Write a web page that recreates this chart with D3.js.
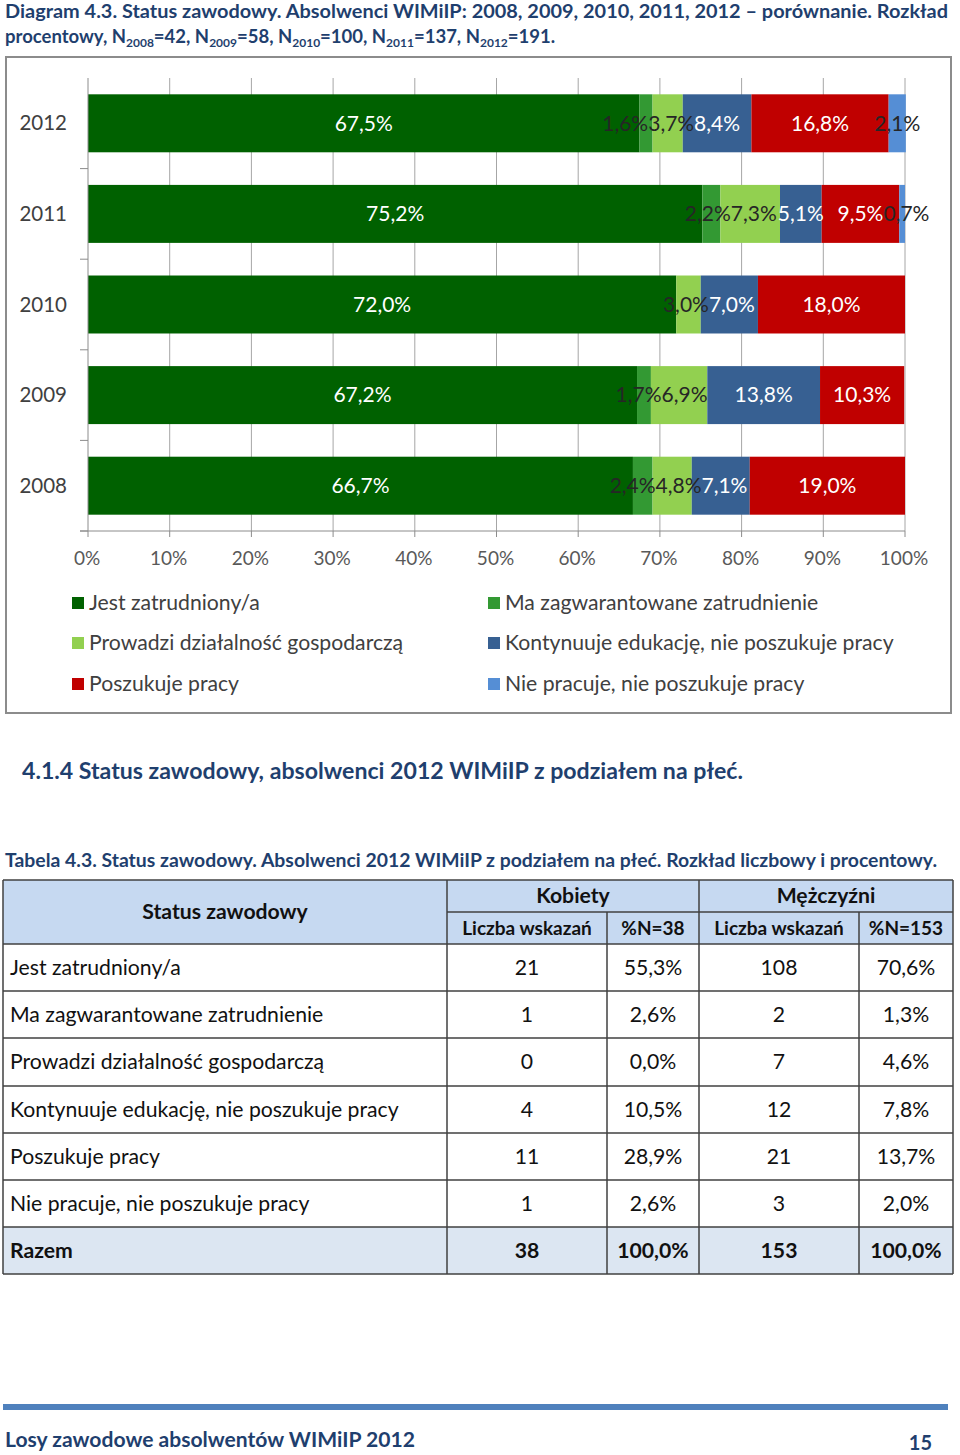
<!DOCTYPE html>
<html><head><meta charset="utf-8">
<script src="https://cdn.jsdelivr.net/npm/d3@7"></script>
<style>
html,body{margin:0;padding:0;background:#fff;}
svg{display:block;}
</style></head>
<body>
<svg id="c" width="960" height="1455"></svg>
<script>
// ---------- DATA ----------
const years = ["2012", "2011", "2010", "2009", "2008"];
const seriesNames = [
  "Jest zatrudniony/a",
  "Ma zagwarantowane zatrudnienie",
  "Prowadzi działalność gospodarczą",
  "Kontynuuje edukację, nie poszukuje pracy",
  "Poszukuje pracy",
  "Nie pracuje, nie poszukuje pracy"
];
const jestZatrudniony   = [67.5, 75.2, 72.0, 67.2, 66.7];
const maZagwarantowane  = [1.6, 2.2, 0, 1.7, 2.4];
const prowadziDzialal   = [3.7, 7.3, 3.0, 6.9, 4.8];
const kontynuujeEdukac  = [8.4, 5.1, 7.0, 13.8, 7.1];
const poszukujePracy    = [16.8, 9.5, 18.0, 10.3, 19.0];
const niePracuje        = [2.1, 0.7, 0, 0, 0];
const xTicks = [0, 10, 20, 30, 40, 50, 60, 70, 80, 90, 100];

const tableStatus = [
  "Jest zatrudniony/a",
  "Ma zagwarantowane zatrudnienie",
  "Prowadzi działalność gospodarczą",
  "Kontynuuje edukację, nie poszukuje pracy",
  "Poszukuje pracy",
  "Nie pracuje, nie poszukuje pracy"
];
const kobietyLiczba = [21, 1, 0, 4, 11, 1];
const kobietyProc   = ["55,3%", "2,6%", "0,0%", "10,5%", "28,9%", "2,6%"];
const mezczyzniLiczba = [108, 2, 7, 12, 21, 3];
const mezczyzniProc   = ["70,6%", "1,3%", "4,6%", "7,8%", "13,7%", "2,0%"];
const razem = ["Razem", "38", "100,0%", "153", "100,0%"];

// ---------- STYLE ----------
const colors = ["#006100", "#339933", "#92D050", "#376092", "#C00000", "#558ED5"];
const labelColors = ["#fff", "#262626", "#262626", "#fff", "#fff", "#262626"];
const FONT = "Lato, 'Open Sans', sans-serif";
const navy = "#1F3F6E";

const svg = d3.select("#c");
svg.append("rect").attr("width", 960).attr("height", 1455).attr("fill", "#fff");

// ---------- TITLE ----------
svg.append("text").attr("x", 5).attr("y", 18)
  .attr("font-family", FONT).attr("font-weight", "bold").attr("font-size", 18.5)
  .attr("fill", navy)
  .attr("textLength", 943).attr("lengthAdjust", "spacingAndGlyphs")
  .text("Diagram 4.3. Status zawodowy. Absolwenci WIMiIP: 2008, 2009, 2010, 2011, 2012 – porównanie. Rozkład");

const t2 = svg.append("text").attr("x", 5).attr("y", 43)
  .attr("font-family", FONT).attr("font-weight", "bold").attr("font-size", 18.5)
  .attr("fill", navy);
const nParts = [["2008","42"],["2009","58"],["2010","100"],["2011","137"],["2012","191"]];
t2.append("tspan").text("procentowy, ");
nParts.forEach((p, i) => {
  t2.append("tspan").text("N");
  t2.append("tspan").attr("font-size", 12).attr("dy", 4).text(p[0]);
  t2.append("tspan").attr("dy", -4).text("=" + p[1] + (i < nParts.length - 1 ? ", " : "."));
});

// ---------- CHART FRAME ----------
svg.append("rect").attr("x", 6).attr("y", 57).attr("width", 945).attr("height", 656)
  .attr("fill", "#fff").attr("stroke", "#8c8c8c").attr("stroke-width", 2);

const plot = {left: 88, right: 905, top: 78, bottom: 531};
const x = d3.scaleLinear().domain([0, 100]).range([plot.left, plot.right]);
const y = d3.scaleBand().domain(years).range([plot.top, plot.bottom])
  .paddingInner(0.36).paddingOuter(0.18);

// gridlines
svg.append("g").selectAll("line").data(xTicks.slice(1)).join("line")
  .attr("x1", d => x(d)).attr("x2", d => x(d))
  .attr("y1", plot.top).attr("y2", plot.bottom)
  .attr("stroke", "#a6a6a6").attr("stroke-width", 1);

// stacked bars
const seriesArrays = [jestZatrudniony, maZagwarantowane, prowadziDzialal, kontynuujeEdukac, poszukujePracy, niePracuje];
const table = years.map((yr, i) => {
  const o = {year: yr};
  seriesNames.forEach((s, k) => o[s] = seriesArrays[k][i]);
  return o;
});
const stack = d3.stack().keys(seriesNames)(table);

const gBars = svg.append("g");
stack.forEach((layer, k) => {
  gBars.append("g").selectAll("rect").data(layer.filter(d => d.data[layer.key] > 0)).join("rect")
    .attr("x", d => x(d[0])).attr("width", d => x(d[1]) - x(d[0]))
    .attr("y", d => y(d.data.year)).attr("height", y.bandwidth())
    .attr("fill", colors[k]);
});

// labels, with simple collision relaxation per bar
const gLab = svg.append("g");
years.forEach(yr => {
  const items = [];
  stack.forEach((layer, k) => {
    const d = layer.find(e => e.data.year === yr);
    const v = d.data[layer.key];
    if (!(v > 0)) return;
    const t = gLab.append("text")
      .attr("y", y(yr) + y.bandwidth() / 2)
      .attr("dy", "0.35em").attr("text-anchor", "middle")
      .attr("font-family", FONT).attr("font-size", 21)
      .attr("fill", labelColors[k])
      .text(d3.format(".1f")(v).replace(".", ",") + "%");
    const w = t.node().getComputedTextLength();
    const seg = x(d[1]) - x(d[0]);
    items.push({t, cx: (x(d[0]) + x(d[1])) / 2, w, fixed: w + 16 < seg});
  });
  for (let it = 0; it < 60; it++) {
    for (let i = 0; i < items.length - 1; i++) {
      const a = items[i], b = items[i + 1];
      const ov = (a.cx + a.w / 2) - (b.cx - b.w / 2);
      if (ov > 0.1) {
        if (a.fixed && b.fixed) continue;
        if (a.fixed) b.cx += ov;
        else if (b.fixed) a.cx -= ov;
        else { a.cx -= ov / 2; b.cx += ov / 2; }
      }
    }
  }
  items.forEach(o => o.t.attr("x", o.cx));
});

// x axis
const gx = svg.append("g").attr("transform", `translate(0,${plot.bottom})`);
gx.append("line").attr("x1", 80).attr("x2", plot.right).attr("y1", 0).attr("y2", 0)
  .attr("stroke", "#8c8c8c");
gx.selectAll("line.tk").data(xTicks).join("line").attr("class", "tk")
  .attr("x1", d => x(d)).attr("x2", d => x(d)).attr("y1", 0).attr("y2", 6)
  .attr("stroke", "#8c8c8c");
gx.selectAll("text").data(xTicks).join("text")
  .attr("x", d => x(d) - 1).attr("y", 27).attr("dy", "0.35em").attr("text-anchor", "middle")
  .attr("font-family", FONT).attr("font-size", 19).attr("fill", "#595959")
  .text(d => d + "%");

// y axis
const gy = svg.append("g");
gy.append("line").attr("x1", plot.left).attr("x2", plot.left).attr("y1", plot.top).attr("y2", plot.bottom)
  .attr("stroke", "#8c8c8c");
const bounds = years.map((d, i) => plot.top + (i + 1) * y.step());
gy.selectAll("line.tk").data(bounds).join("line").attr("class", "tk")
  .attr("x1", 80).attr("x2", plot.left).attr("y1", d => d).attr("y2", d => d)
  .attr("stroke", "#8c8c8c");
gy.selectAll("text").data(years).join("text")
  .attr("x", 67).attr("y", d => y(d) + y.bandwidth() / 2).attr("dy", "0.35em")
  .attr("text-anchor", "end")
  .attr("font-family", FONT).attr("font-size", 20.5).attr("fill", "#404040")
  .text(d => d);

// legend
const legPos = [[72, 603], [488, 603], [72, 643], [488, 643], [72, 684], [488, 684]];
const gl = svg.append("g");
seriesNames.forEach((s, k) => {
  const [lx, ly] = legPos[k];
  gl.append("rect").attr("x", lx).attr("y", ly - 6).attr("width", 12).attr("height", 12).attr("fill", colors[k]);
  gl.append("text").attr("x", lx + 17).attr("y", ly).attr("dy", "0.35em")
    .attr("font-family", FONT).attr("font-size", 21.2).attr("fill", "#404040").text(s);
});

// ---------- HEADINGS ----------
svg.append("text").attr("x", 22).attr("y", 779)
  .attr("font-family", FONT).attr("font-weight", "bold").attr("font-size", 22)
  .attr("fill", navy).attr("textLength", 721).attr("lengthAdjust", "spacingAndGlyphs")
  .text("4.1.4 Status zawodowy, absolwenci 2012 WIMiIP z podziałem na płeć.");

svg.append("text").attr("x", 5).attr("y", 867)
  .attr("font-family", FONT).attr("font-weight", "bold").attr("font-size", 18.5)
  .attr("fill", navy).attr("textLength", 932).attr("lengthAdjust", "spacingAndGlyphs")
  .text("Tabela 4.3. Status zawodowy. Absolwenci 2012 WIMiIP z podziałem na płeć. Rozkład liczbowy i procentowy.");

// ---------- TABLE ----------
const colX = [3, 447, 607, 699, 859, 953];
const rowY = [880, 912, 944, 991, 1038, 1086, 1133, 1180, 1227, 1274];
const gt = svg.append("g");
gt.append("rect").attr("x", colX[0]).attr("y", rowY[0]).attr("width", colX[5] - colX[0]).attr("height", rowY[2] - rowY[0]).attr("fill", "#C6D9F1");
gt.append("rect").attr("x", colX[0]).attr("y", rowY[8]).attr("width", colX[5] - colX[0]).attr("height", rowY[9] - rowY[8]).attr("fill", "#DCE6F2");

const lineC = "#404040";
rowY.forEach((ry, i) => {
  gt.append("line").attr("x1", i === 1 ? colX[1] : colX[0]).attr("x2", colX[5])
    .attr("y1", ry).attr("y2", ry).attr("stroke", lineC).attr("stroke-width", 1.5);
});
colX.forEach((cx, i) => {
  const y0 = (i === 2 || i === 4) ? rowY[1] : rowY[0];
  gt.append("line").attr("x1", cx).attr("x2", cx).attr("y1", y0).attr("y2", rowY[9])
    .attr("stroke", lineC).attr("stroke-width", 1.5);
});

const cellText = (txt, cx, cy, opts = {}) => gt.append("text")
  .attr("x", cx).attr("y", cy).attr("dy", "0.35em")
  .attr("text-anchor", opts.anchor || "middle")
  .attr("font-family", FONT).attr("font-size", opts.size || 21.2)
  .attr("font-weight", opts.bold ? "bold" : "normal").attr("fill", "#111")
  .text(txt);

const centers = [1, 2, 3, 4].map(i => (colX[i] + colX[i + 1]) / 2);
cellText("Status zawodowy", (colX[0] + colX[1]) / 2, (rowY[0] + rowY[2]) / 2, {bold: true});
cellText("Kobiety", (colX[1] + colX[3]) / 2, (rowY[0] + rowY[1]) / 2, {bold: true});
cellText("Mężczyźni", (colX[3] + colX[5]) / 2, (rowY[0] + rowY[1]) / 2, {bold: true});
["Liczba wskazań", "%N=38", "Liczba wskazań", "%N=153"].forEach((s, i) =>
  cellText(s, centers[i], (rowY[1] + rowY[2]) / 2, {bold: true, size: 19}));

tableStatus.forEach((s, r) => {
  const cy = (rowY[r + 2] + rowY[r + 3]) / 2;
  cellText(s, 10, cy, {anchor: "start"});
  [kobietyLiczba[r], kobietyProc[r], mezczyzniLiczba[r], mezczyzniProc[r]].forEach((v, i) =>
    cellText(String(v), centers[i], cy));
});
{
  const cy = (rowY[8] + rowY[9]) / 2;
  cellText(razem[0], 10, cy, {anchor: "start", bold: true});
  razem.slice(1).forEach((v, i) => cellText(v, centers[i], cy, {bold: true}));
}

// ---------- FOOTER ----------
svg.append("rect").attr("x", 3).attr("y", 1404).attr("width", 945).attr("height", 6).attr("fill", "#4F81BD");
svg.append("text").attr("x", 5).attr("y", 1447)
  .attr("font-family", FONT).attr("font-weight", "bold").attr("font-size", 20)
  .attr("fill", navy).attr("textLength", 410).attr("lengthAdjust", "spacingAndGlyphs")
  .text("Losy zawodowe absolwentów WIMiIP 2012");
svg.append("text").attr("x", 932).attr("y", 1450).attr("text-anchor", "end")
  .attr("font-family", FONT).attr("font-weight", "bold").attr("font-size", 20)
  .attr("fill", navy).text("15");
</script>
</body></html>
